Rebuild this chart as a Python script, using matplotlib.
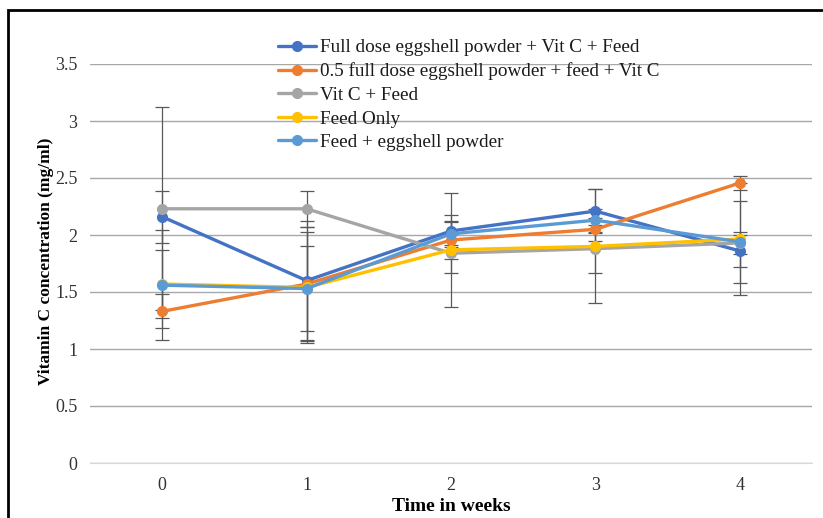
import matplotlib
matplotlib.use("Agg")
import matplotlib.pyplot as plt
from matplotlib.patches import Rectangle

weeks = [0, 1, 2, 3, 4]
week_labels = ["0", "1", "2", "3", "4"]

series_names = [
    "Full dose eggshell powder + Vit C + Feed",
    "0.5 full dose eggshell powder + feed + Vit C",
    "Vit C + Feed",
    "Feed Only",
    "Feed + eggshell powder",
]
colors = ["#4472C4", "#ED7D31", "#A5A5A5", "#FFC000", "#5B9BD5"]

full_dose = [2.16, 1.60, 2.035, 2.21, 1.86]
half_dose = [1.33, 1.57, 1.956, 2.05, 2.456]
vitc_feed = [2.23, 2.23, 1.84, 1.88, 1.93]
feed_only = [1.57, 1.54, 1.87, 1.90, 1.965]
feed_egg = [1.56, 1.53, 2.01, 2.13, 1.94]

full_dose_err = [0.23, 0.52, 0.14, 0.19, 0.14]
half_dose_err = [0.15, 0.50, 0.17, 0.10, 0.06]
vitc_feed_err = [0.89, 0.16, 0.17, 0.21, 0.10]
feed_only_err = [0.30, 0.49, 0.50, 0.50, 0.49]
feed_egg_err = [0.48, 0.37, 0.10, 0.10, 0.36]

y_ticks = [0, 0.5, 1, 1.5, 2, 2.5, 3, 3.5]
y_tick_labels = ["0", "0.5", "1", "1.5", "2", "2.5", "3", "3.5"]

values = [full_dose, half_dose, vitc_feed, feed_only, feed_egg]
errors = [full_dose_err, half_dose_err, vitc_feed_err, feed_only_err, feed_egg_err]

plt.rcParams["font.family"] = ["Liberation Serif", "DejaVu Serif"]

fig = plt.figure(figsize=(8.23, 5.18), dpi=100)
ax = fig.add_axes([90 / 823, 1 - 463 / 518, (812 - 90) / 823, (463 - 64) / 518])

for vals, errs in zip(values, errors):
    ax.errorbar(weeks, vals, yerr=errs, fmt="none", ecolor="#595959",
                elinewidth=0.9, capsize=5, capthick=0.9, zorder=2)

for name, vals, c in zip(series_names, values, colors):
    ax.plot(weeks, vals, color=c, lw=2.4, marker="o", markersize=7,
            label=name, zorder=3, solid_capstyle="round")

ax.set_xlim(-0.5, 4.5)
ax.set_ylim(0, 3.5)
ax.set_yticks(y_ticks)
ax.set_yticklabels(y_tick_labels)
ax.set_xticks(weeks)
ax.set_xticklabels(week_labels)
ax.grid(axis="y", color="#A8A8A8", lw=1.0)
ax.set_axisbelow(True)
for s in ["top", "right", "left"]:
    ax.spines[s].set_visible(False)
ax.spines["bottom"].set_color("#D9D9D9")
ax.tick_params(axis="both", length=0, labelsize=13, colors="#333333")
ax.tick_params(axis="x", pad=10)
ax.tick_params(axis="y", pad=9)

ax.set_xlabel("Time in weeks", fontsize=14, fontweight="bold", labelpad=3)
ax.set_ylabel("Vitamin C concentration (mg/ml)", fontsize=12.5, fontweight="bold")
ax.yaxis.set_label_coords(-0.050, 0.505)

leg = fig.legend(loc="upper left", bbox_to_anchor=(278 / 823, 1 - 39 / 518),
                 frameon=False, fontsize=13.8, handlelength=2.0, handletextpad=0.2,
                 labelspacing=0.32, borderpad=0, borderaxespad=0)
for t in leg.get_texts():
    t.set_color("#1a1a1a")

fig.patches.append(Rectangle((8 / 823, -0.1), 1.2, 1.1 - 10 / 518 + 0.0,
                             transform=fig.transFigure, fill=False,
                             edgecolor="black", lw=2, zorder=10))

fig.savefig("out.png", dpi=100)
